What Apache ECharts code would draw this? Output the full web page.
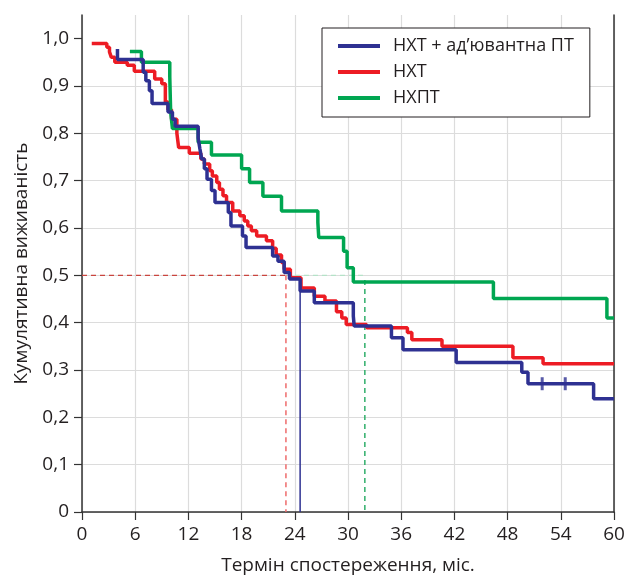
<!DOCTYPE html>
<html>
<head>
<meta charset="utf-8">
<script src="https://cdn.jsdelivr.net/npm/echarts@6/dist/echarts.min.js"></script>
<style>
  html, body { margin: 0; padding: 0; background: #fff; }
  #chart { width: 625px; height: 575px; }
</style>
</head>
<body>
<div id="chart"></div>
<script>
// назви груп
const seriesNames = ['НХТ + ад’ювантна ПТ', 'НХТ', 'НХПТ']

// НХТ + ад'ювантна ПТ (місяці / виживаність)
const blueT = [4.0, 4.0, 6.9, 7.2, 7.6, 7.9, 9.7, 10.2, 10.5, 13.1, 13.3, 13.5, 13.8, 14.1, 14.6, 15.0, 16.5, 16.8, 18.1, 18.5, 21.5, 22.1, 22.8, 23.4, 24.6, 26.2, 30.6, 30.7, 34.9, 36.2, 42.2, 49.6, 50.3, 57.7, 60]
const blueS = [0.978, 0.956, 0.929, 0.911, 0.89, 0.863, 0.845, 0.83, 0.815, 0.79, 0.767, 0.746, 0.725, 0.703, 0.679, 0.654, 0.633, 0.604, 0.583, 0.559, 0.541, 0.53, 0.506, 0.492, 0.467, 0.442, 0.414, 0.393, 0.368, 0.343, 0.316, 0.295, 0.271, 0.239, 0.239]
const blueCensorT = [51.9, 54.5]
const blueCensorS = [0.271, 0.271]

// НХТ
const redT = [1.1, 2.8, 3.1, 3.3, 3.7, 5.1, 5.9, 8.2, 9.0, 9.4, 9.7, 10.1, 10.7, 10.9, 12.1, 13.4, 13.8, 14.4, 14.7, 15.2, 15.5, 15.9, 16.3, 17.0, 17.8, 18.3, 18.7, 19.1, 19.7, 20.8, 21.5, 21.9, 22.5, 22.8, 23.5, 24.7, 26.2, 27.4, 28.7, 29.3, 29.8, 32.1, 36.7, 37.2, 40.6, 48.6, 52.0, 60]
const redS = [0.99, 0.982, 0.972, 0.961, 0.95, 0.944, 0.931, 0.915, 0.905, 0.866, 0.85, 0.83, 0.80, 0.77, 0.758, 0.746, 0.735, 0.721, 0.71, 0.696, 0.682, 0.668, 0.654, 0.636, 0.626, 0.615, 0.604, 0.594, 0.583, 0.573, 0.557, 0.543, 0.527, 0.513, 0.495, 0.473, 0.456, 0.446, 0.423, 0.41, 0.396, 0.389, 0.379, 0.364, 0.35, 0.326, 0.313, 0.313]

// НХПТ
const greenT = [5.4, 6.7, 9.9, 10.0, 10.2, 13.1, 14.6, 18.0, 18.9, 20.4, 22.5, 26.6, 26.7, 29.5, 29.9, 30.6, 46.4, 59.2, 60]
const greenS = [0.973, 0.95, 0.919, 0.845, 0.81, 0.781, 0.754, 0.725, 0.696, 0.667, 0.636, 0.612, 0.58, 0.551, 0.516, 0.486, 0.451, 0.41, 0.41]

// медіани виживаності
const medianLevel = 0.5
const medRed = 23.0
const medBlue = 24.6
const medGreen = 31.9

// осі
const xTicks = [0, 6, 12, 18, 24, 30, 36, 42, 48, 54, 60]
const yTicks = [0, 0.1, 0.2, 0.3, 0.4, 0.5, 0.6, 0.7, 0.8, 0.9, 1.0]

const FONT = '"Open Sans", "Noto Sans", sans-serif'
const TXT = '#231f20'
const zip = (a, b) => a.map((v, i) => [v, b[i]])

const kmSeries = (name, t, s, color) => ({
  name: name,
  type: 'line',
  step: 'end',
  symbol: 'none',
  z: 5,
  lineStyle: {color: color, width: 3.5},
  itemStyle: {color: color},
  data: zip(t, s)
})

const refLine = (data, color, width, type) => ({
  type: 'line',
  symbol: 'none',
  silent: true,
  z: 2,
  lineStyle: {color: color, width: width, type: type},
  data: data
})

const chart = echarts.init(document.getElementById('chart'))
chart.setOption({
  animation: false,
  backgroundColor: '#fff',
  textStyle: {fontFamily: FONT, color: TXT},
  grid: {left: 82, right: 11, top: 15, bottom: 63, outerBoundsMode: 'none', containLabel: false},
  legend: {
    data: seriesNames,
    orient: 'vertical',
    left: 322,
    top: 28,
    padding: [9, 16, 10, 16],
    itemGap: 8,
    itemWidth: 42,
    itemHeight: 4,
    icon: 'rect',
    backgroundColor: '#fff',
    borderColor: '#231f20',
    borderWidth: 1,
    textStyle: {fontFamily: FONT, fontSize: 18, color: TXT, padding: [0, 0, 0, 8], lineHeight: 18}
  },
  xAxis: {
    type: 'value',
    min: 0,
    max: 60,
    interval: 6,
    name: 'Термін спостереження, міс.',
    nameLocation: 'middle',
    nameGap: 44,
    nameTextStyle: {fontFamily: FONT, fontSize: 19, color: TXT},
    axisLine: {show: true, lineStyle: {color: '#333', width: 1.5}},
    axisTick: {show: true, length: 8, lineStyle: {color: '#333', width: 1.2}},
    axisLabel: {fontFamily: FONT, fontSize: 19, color: TXT, margin: 13,
      customValues: xTicks},
    splitLine: {show: true, lineStyle: {color: '#dcdcdc', width: 1.2}}
  },
  yAxis: [{
    type: 'value',
    min: 0,
    max: 1.05,
    interval: 0.1,
    name: 'Кумулятивна виживаність',
    nameLocation: 'middle',
    nameGap: 50,
    nameTextStyle: {fontFamily: FONT, fontSize: 19, color: TXT},
    axisLine: {show: true, lineStyle: {color: '#333', width: 1.5}},
    axisTick: {show: true, length: 8, lineStyle: {color: '#333', width: 1.2},
      customValues: yTicks},
    axisLabel: {fontFamily: FONT, fontSize: 19, color: TXT, margin: 13,
      customValues: yTicks,
      formatter: v => v.toFixed(v === 0 ? 0 : 1).replace('.', ',')},
    splitLine: {show: true, showMaxLine: false, lineStyle: {color: '#dcdcdc', width: 1.2}}
  }, {
    type: 'value',
    position: 'right',
    min: 0,
    max: 1.05,
    axisLine: {show: true, lineStyle: {color: '#333', width: 1.5}},
    axisTick: {show: false},
    axisLabel: {show: false},
    splitLine: {show: false}
  }],
  series: [
    refLine([[0, medianLevel], [medRed, medianLevel]], '#c9453f', 1.2, [5, 4]),
    refLine([[medRed, medianLevel], [medGreen, medianLevel]], '#b5e2c8', 1.2, [5, 4]),
    refLine([[medRed, medianLevel], [medRed, 0]], '#ee6b6b', 1.5, [5, 4]),
    refLine([[medBlue, 0.467], [medBlue, 0]], '#2e3192', 1.5, 'solid'),
    refLine([[medGreen, 0.49], [medGreen, 0]], '#2fae6a', 1.5, [5, 4]),
    kmSeries(seriesNames[1], redT, redS, '#ed1c24'),
    kmSeries(seriesNames[2], greenT, greenS, '#00a651'),
    kmSeries(seriesNames[0], blueT, blueS, '#2e3192'),
    {
      type: 'scatter',
      symbol: 'rect',
      symbolSize: [3, 13],
      silent: true,
      z: 6,
      itemStyle: {color: '#2e3192'},
      data: zip(blueCensorT, blueCensorS)
    }
  ]
})
</script>
</body>
</html>
